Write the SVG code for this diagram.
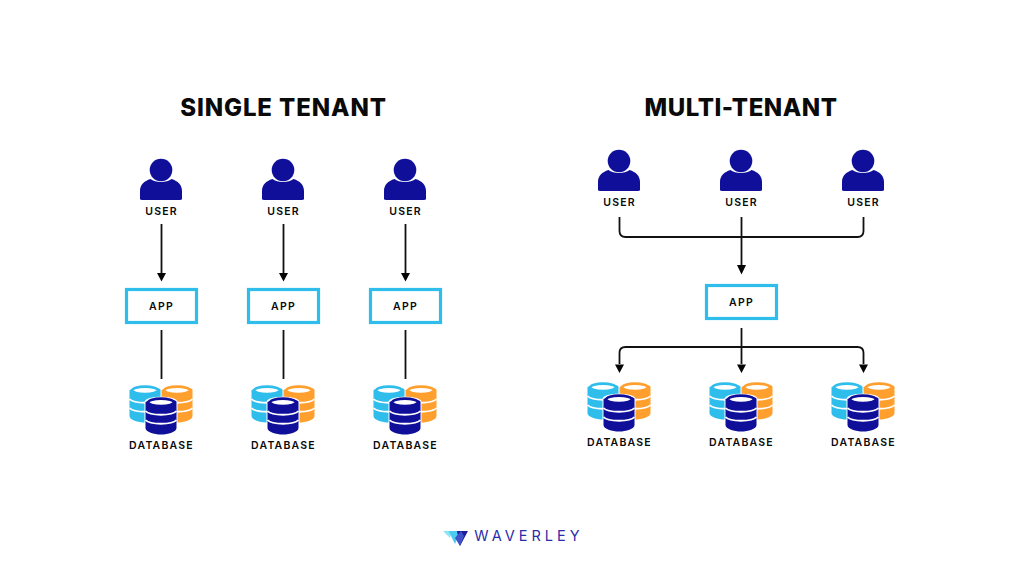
<svg xmlns="http://www.w3.org/2000/svg" width="1024" height="576" viewBox="0 0 1024 576">
<style>
text{font-family:Inter,"Liberation Sans",sans-serif;fill:#0a0a0a;text-anchor:middle}
.t{font-size:24px;font-weight:800}
.l{font-size:10.5px;font-weight:600;letter-spacing:1.2px}
.b{fill:#fff;stroke:#2fbdec;stroke-width:3.2}
.c{fill:none;stroke:#111;stroke-width:1.8}
.a{fill:#050505}
</style>
<defs>
<g id="u">
<circle cx="0" cy="0" r="11.300" fill="#0f0f9a"/>
<path d="M-21 27.500Q-21.500 30-19 30H19Q21.500 30 21 27.500V21C21 15 17 11 10.500 9C6 13-6 13-10.500 9C-17 11-21 15-21 21Z" fill="#0f0f9a"/>
</g>
<g id="cy">
<path d="M-15.500 5V31C-15.500 35-7 37.500 0 37.500S15.500 35 15.500 31V5C15.500 1-7 1-15.500 5Z" fill="currentColor"/>
<ellipse cx="0" cy="5.300" rx="12.800" ry="3.700" fill="#fff" stroke="currentColor" stroke-width="2.600"/>
<path d="M-15.500 14C-11 19 11 19 15.500 14M-15.500 23C-11 28 11 28 15.500 23" fill="none" stroke="#fff" stroke-width="1.800"/>
</g>
<g id="d">
<use href="#cy" x="-16" y="0" color="#2fbdec"/>
<use href="#cy" x="16" y="0" color="#ff9f2e"/>
<path d="M-16.500 17V43C-16.500 47-8 50 0 50S16.500 47 16.500 43V17C16.500 10-16.500 10-16.500 17Z" fill="#fff"/>
<use href="#cy" x="0" y="12" color="#0f0f9a"/>
</g>
</defs>

<text class="t" x="283.500" y="116" style="letter-spacing:.9px">SINGLE TENANT</text>
<text class="t" x="741" y="116" style="letter-spacing:.55px">MULTI-TENANT</text>

<g id="connectors">
<path class="c" d="M161.500 224V274M283.500 224V274M405.500 224V274M161.500 330V379M283.500 330V379M405.500 330V379"/>
<path class="c" d="M619.500 217V231Q619.500 237 625.500 237H857.500Q863.500 237 863.500 231V217M741.500 217V266"/>
<path class="c" d="M619.500 364V353Q619.500 347 625.500 347H857.500Q863.500 347 863.500 353V364M741.500 328V364"/>
<path class="a" d="M157 273H166L161.500 281.500ZM279 273H288L283.500 281.500ZM401 273H410L405.500 281.500ZM737 265H746L741.500 274.500ZM615 364.500H624L619.500 373ZM737 364.500H746L741.500 373ZM859 364.500H868L863.500 373Z"/>
</g>

<g id="user1"><use href="#u" x="161" y="170"/><text class="l" x="161.500" y="215">USER</text></g>
<g id="user2"><use href="#u" x="283" y="170"/><text class="l" x="283.500" y="215">USER</text></g>
<g id="user3"><use href="#u" x="405" y="170"/><text class="l" x="405.500" y="215">USER</text></g>
<g id="app1"><rect class="b" x="126.500" y="289.500" width="70" height="33"/><text class="l" x="161.500" y="310">APP</text></g>
<g id="app2"><rect class="b" x="248.500" y="289.500" width="70" height="33"/><text class="l" x="283.500" y="310">APP</text></g>
<g id="app3"><rect class="b" x="370.500" y="289.500" width="70" height="33"/><text class="l" x="405.500" y="310">APP</text></g>
<g id="db1"><use href="#d" x="161" y="385"/><text class="l" x="161.500" y="449">DATABASE</text></g>
<g id="db2"><use href="#d" x="283" y="385"/><text class="l" x="283.500" y="449">DATABASE</text></g>
<g id="db3"><use href="#d" x="405" y="385"/><text class="l" x="405.500" y="449">DATABASE</text></g>

<g id="user4"><use href="#u" x="619" y="161"/><text class="l" x="619.500" y="206">USER</text></g>
<g id="user5"><use href="#u" x="741" y="161"/><text class="l" x="741.500" y="206">USER</text></g>
<g id="user6"><use href="#u" x="863" y="161"/><text class="l" x="863.500" y="206">USER</text></g>
<g id="app4"><rect class="b" x="706.500" y="285.500" width="70" height="33"/><text class="l" x="741.500" y="306">APP</text></g>
<g id="db4"><use href="#d" x="619" y="382"/><text class="l" x="619.500" y="446">DATABASE</text></g>
<g id="db5"><use href="#d" x="741" y="382"/><text class="l" x="741.500" y="446">DATABASE</text></g>
<g id="db6"><use href="#d" x="863" y="382"/><text class="l" x="863.500" y="446">DATABASE</text></g>

<g id="logo">
<path d="M443 531H451.500L450 538Z" fill="#8ce6f5"/>
<path d="M448.500 531H460L455 544Z" fill="#4bcbf0"/>
<path d="M457 531H468L460 546Z" fill="#1d1da0"/>
<path d="M461 531L455 538L460 546L464 536Z" fill="#3f52c8"/>
<text x="529" y="541" style="font-size:14.500px;font-weight:400;letter-spacing:4px;fill:#2c2ca8">WAVERLEY</text>
</g>
</svg>
